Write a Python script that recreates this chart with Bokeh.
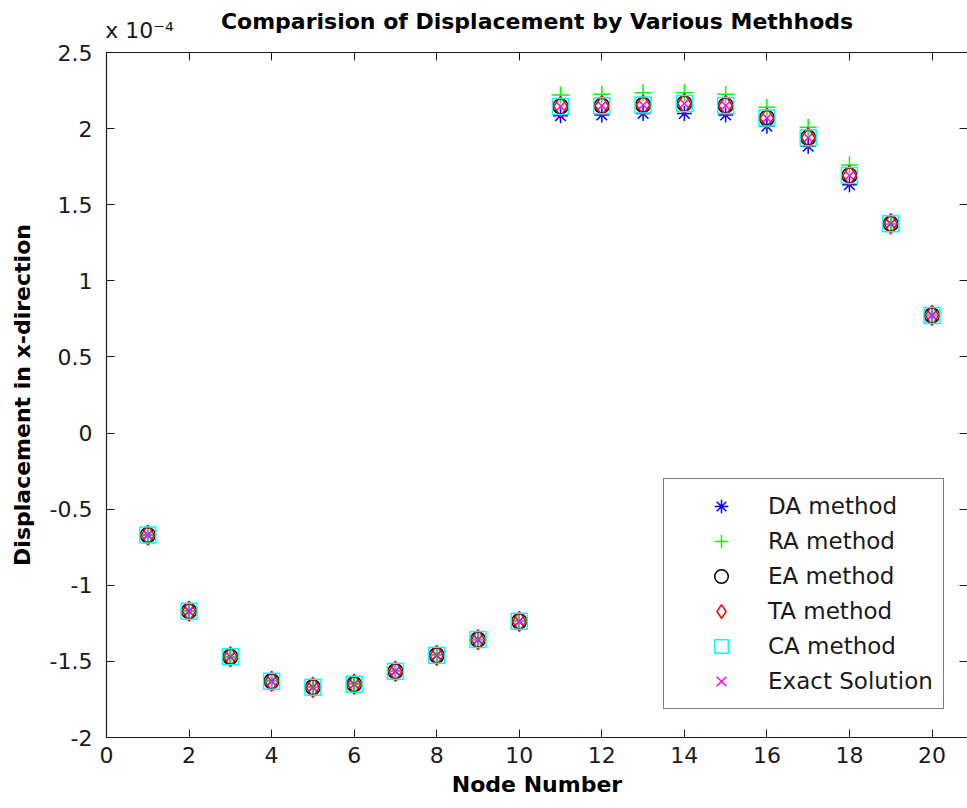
from bokeh.plotting import figure
from bokeh.models import Range1d, LinearAxis, FixedTicker, Legend, LegendItem
from bokeh.embed import file_html
from bokeh.resources import INLINE

# Node numbers and x-displacements (in units of 1e-4) for each method
nodes = list(range(1, 21))
da_method = [-0.67, -1.17, -1.47, -1.63, -1.67, -1.65, -1.565, -1.46, -1.357, -1.237,
             2.085, 2.09, 2.10, 2.10, 2.09, 2.016, 1.884, 1.632, 1.375, 0.773]
ra_method = [-0.67, -1.17, -1.47, -1.63, -1.67, -1.65, -1.565, -1.46, -1.357, -1.237,
             2.221, 2.225, 2.235, 2.235, 2.225, 2.14, 2.009, 1.761, 1.375, 0.773]
ea_method = [-0.67, -1.17, -1.47, -1.63, -1.67, -1.65, -1.565, -1.46, -1.357, -1.237,
             2.146, 2.15, 2.155, 2.165, 2.152, 2.069, 1.94, 1.692, 1.375, 0.773]
ta_method = [-0.67, -1.17, -1.47, -1.63, -1.67, -1.65, -1.565, -1.46, -1.357, -1.237,
             2.146, 2.15, 2.155, 2.165, 2.152, 2.069, 1.94, 1.692, 1.375, 0.773]
ca_method = [-0.67, -1.17, -1.47, -1.63, -1.67, -1.65, -1.565, -1.46, -1.357, -1.237,
             2.146, 2.15, 2.155, 2.165, 2.152, 2.069, 1.94, 1.692, 1.375, 0.773]
exact_solution = [-0.67, -1.17, -1.47, -1.63, -1.67, -1.65, -1.565, -1.46, -1.357, -1.237,
                  2.146, 2.15, 2.155, 2.165, 2.152, 2.069, 1.94, 1.692, 1.375, 0.773]

x_ticks = [0, 2, 4, 6, 8, 10, 12, 14, 16, 18, 20]
y_ticks = [-2, -1.5, -1, -0.5, 0, 0.5, 1, 1.5, 2, 2.5]
y_tick_labels = ["-2", "-1.5", "-1", "-0.5", "0", "0.5", "1", "1.5", "2", "2.5"]
scale_label = "x 10\u207b\u2074"
title_text = "Comparision of Displacement by Various Methhods"

FONT = "DejaVu Sans"
INK = "#1a1a1a"

p = figure(width=967, height=808, x_range=Range1d(0, 20.86), y_range=Range1d(-2, 2.5),
           output_backend="svg", toolbar_location=None,
           min_border_left=106, min_border_right=0, min_border_top=52, min_border_bottom=71)
p.outline_line_color = None
p.xgrid.visible = False
p.ygrid.visible = False
p.background_fill_color = "white"
p.border_fill_color = "white"


def style_axis(ax):
    ax.axis_line_color = INK
    ax.axis_line_width = 1.2
    ax.major_tick_line_color = INK
    ax.minor_tick_line_color = INK
    ax.major_tick_in = 8
    ax.major_tick_out = 0
    ax.minor_tick_in = 0
    ax.minor_tick_out = 0
    ax.major_label_text_font = FONT
    ax.major_label_text_font_size = "22px"
    ax.major_label_text_color = INK
    ax.axis_label_text_font = FONT
    ax.axis_label_text_font_size = "22px"
    ax.axis_label_text_font_style = "bold"
    ax.axis_label_text_color = "black"


xax = p.xaxis[0]
xax.ticker = FixedTicker(ticks=x_ticks)
style_axis(xax)
xax.major_label_standoff = 9
xax.axis_label = "Node Number"
xax.axis_label_standoff = 6

yax = p.yaxis[0]
yax.ticker = FixedTicker(ticks=y_ticks)
yax.major_label_overrides = {t: s for t, s in zip(y_ticks, y_tick_labels)}
style_axis(yax)
yax.major_label_standoff = 14
yax.axis_label = "Displacement in x-direction"
yax.axis_label_standoff = 12

# Top box edge: inward tick marks (as minor ticks), the exponent note and the title
scale_pos = 0.8
top_ax = LinearAxis(ticker=FixedTicker(ticks=[scale_pos], minor_ticks=x_ticks))
style_axis(top_ax)
top_ax.major_tick_in = 0
top_ax.minor_tick_in = 8
top_ax.major_label_overrides = {scale_pos: scale_label}
top_ax.major_label_standoff = 10
top_ax.axis_label = title_text
top_ax.axis_label_standoff = -19
p.add_layout(top_ax, "above")

# Right box edge: inward tick marks only
right_ax = LinearAxis(ticker=FixedTicker(ticks=[], minor_ticks=y_ticks))
style_axis(right_ax)
right_ax.axis_line_color = None
right_ax.minor_tick_in = 8
right_ax.major_label_standoff = 0
p.add_layout(right_ax, "right")

lw = 1.5
r_da = p.scatter(nodes, da_method, marker="asterisk", size=15, line_color="#0000ff", line_width=lw)
r_ra = p.scatter(nodes, ra_method, marker="cross", size=17, line_color="#00ff00", line_width=lw)
r_ea = p.scatter(nodes, ea_method, marker="circle", size=15, line_color="black",
                 fill_color=None, line_width=lw)
r_ta = p.scatter(nodes, ta_method, marker="diamond", size=20, line_color="#ff0000",
                 fill_color=None, line_width=lw)
r_ca = p.scatter(nodes, ca_method, marker="square", size=16, line_color="#00ffff",
                 fill_color=None, line_width=lw)
r_ex = p.scatter(nodes, exact_solution, marker="x", size=10, line_color="#ff00ff", line_width=lw)

legend = Legend(items=[
    LegendItem(label="DA method", renderers=[r_da]),
    LegendItem(label="RA method", renderers=[r_ra]),
    LegendItem(label="EA method", renderers=[r_ea]),
    LegendItem(label="TA method", renderers=[r_ta]),
    LegendItem(label="CA method", renderers=[r_ca]),
    LegendItem(label="Exact Solution", renderers=[r_ex]),
], location=(557, 28))
legend.label_text_font = FONT
legend.label_text_font_size = "23px"
legend.label_text_color = INK
legend.padding = 10
legend.margin = 0
legend.glyph_width = 94
legend.glyph_height = 34
legend.label_height = 34
legend.label_standoff = 0
legend.spacing = 1
legend.border_line_color = "black"
legend.border_line_width = 1.2
legend.background_fill_color = "white"
legend.background_fill_alpha = 1
p.add_layout(legend, "center")

open("out.html", "w").write(file_html(p, INLINE))
